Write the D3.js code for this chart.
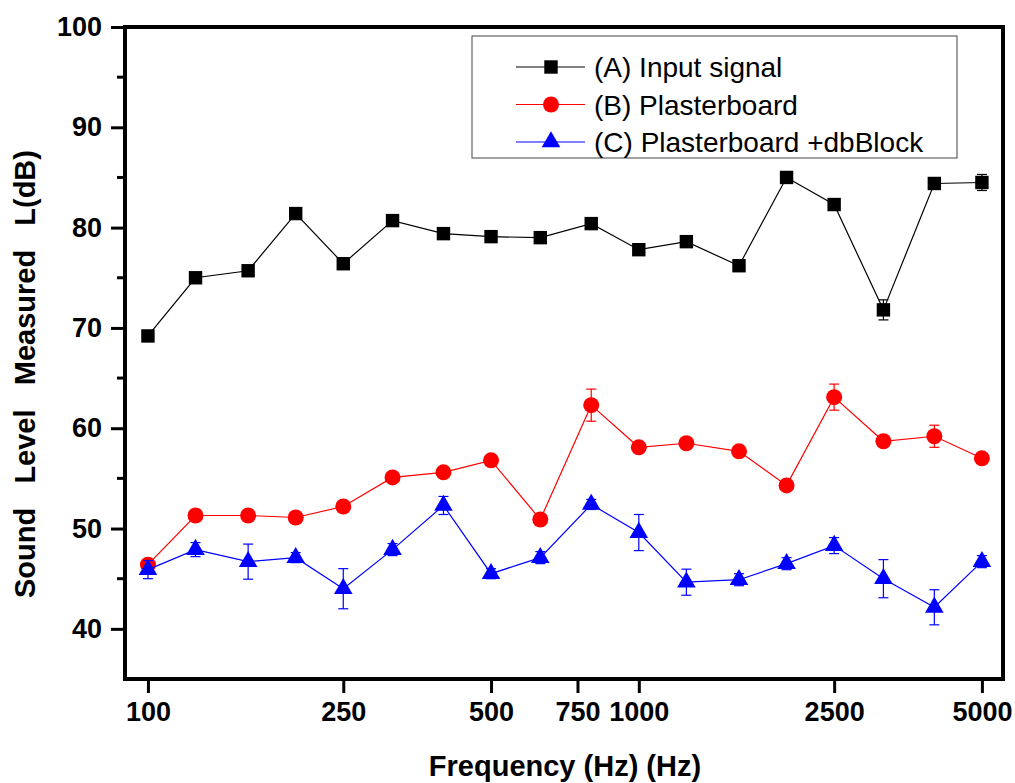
<!DOCTYPE html>
<html>
<head>
<meta charset="utf-8">
<script src="https://cdn.jsdelivr.net/npm/d3@7"></script>
<style>
    body { margin: 0; background: #fff; }
    svg { font-family: "Liberation Sans", Arial, sans-serif; }
</style>
</head>
<body>
<div id="chart"></div>
<script>
// Data
const freqs = [100, 125, 160, 200, 250, 315, 400, 500, 630, 800, 1000, 1250, 1600, 2000, 2500, 3150, 4000, 5000];
const inputSignal = [69.2, 75.0, 75.7, 81.4, 76.4, 80.7, 79.4, 79.1, 79.0, 80.4, 77.8, 78.6, 76.2, 85.0, 82.3, 71.8, 84.4, 84.5];
const inputErr    = [0.3, 0.3, 0.3, 0.3, 0.3, 0.3, 0.3, 0.3, 0.5, 0.3, 0.3, 0.3, 0.3, 0.3, 0.5, 1.0, 0.3, 0.8];
const plaster     = [46.4, 51.3, 51.3, 51.1, 52.2, 55.1, 55.6, 56.8, 50.9, 62.3, 58.1, 58.5, 57.7, 54.3, 63.1, 58.7, 59.2, 57.0];
const plasterErr  = [0.3, 0.2, 0.2, 0.2, 0.2, 0.2, 0.2, 0.2, 0.2, 1.6, 0.3, 0.2, 0.5, 0.2, 1.3, 0.5, 1.1, 0.2];
const dbBlock     = [45.9, 47.9, 46.7, 47.1, 44.0, 47.9, 52.3, 45.5, 47.1, 52.4, 49.6, 44.65, 44.9, 46.5, 48.3, 45.0, 42.15, 46.7];
const dbBlockErr  = [0.9, 0.7, 1.75, 0.5, 2.0, 0.6, 0.9, 0.5, 0.6, 0.5, 1.8, 1.3, 0.6, 0.6, 0.8, 1.9, 1.75, 0.6];

const xTicks = [100, 250, 500, 750, 1000, 2500, 5000];
const yTicks = [40, 50, 60, 70, 80, 90, 100];
const yMinorTicks = [45, 55, 65, 75, 85, 95];
const seriesNames = ["(A) Input signal", "(B) Plasterboard", "(C) Plasterboard +dbBlock"];

const svgWidth = 1015, svgHeight = 783;
const margin = { top: 27, right: 12, bottom: 104, left: 125 };
const width = svgWidth - margin.left - margin.right;
const height = svgHeight - margin.top - margin.bottom;

const series = [
    { name: seriesNames[0], values: inputSignal, err: inputErr, color: "#000000", shape: "square" },
    { name: seriesNames[1], values: plaster, err: plasterErr, color: "#ff0000", shape: "circle" },
    { name: seriesNames[2], values: dbBlock, err: dbBlockErr, color: "#0000ff", shape: "triangle" }
];

const x = d3.scaleLog().domain([89.8, 5520]).range([0, width]);
const y = d3.scaleLinear().domain([35, 100]).range([height, 0]);

const svg = d3.select("#chart").append("svg")
    .attr("width", svgWidth)
    .attr("height", svgHeight);

const g = svg.append("g")
    .attr("transform", `translate(${margin.left},${margin.top})`);

// axes
const xAxis = d3.axisBottom(x).tickValues(xTicks).tickFormat(d3.format("d")).tickSize(13).tickSizeOuter(0).tickPadding(9);
const yAxis = d3.axisLeft(y).tickValues(yTicks).tickSize(13).tickSizeOuter(0).tickPadding(9);

const gx = g.append("g").attr("transform", `translate(0,${height + 1})`).call(xAxis);
const gy = g.append("g").attr("transform", "translate(-1,0)").call(yAxis);

g.append("g").attr("transform", "translate(-1,0)")
    .selectAll("line").data(yMinorTicks).join("line")
    .attr("x1", -7).attr("x2", 0)
    .attr("y1", d => y(d)).attr("y2", d => y(d))
    .attr("stroke", "#000").attr("stroke-width", 3);

[gx, gy].forEach(a => {
    a.select(".domain").remove();
    a.selectAll(".tick line").attr("stroke-width", 3);
    a.selectAll(".tick text")
        .attr("fill", "#000")
        .style("font-size", "27px")
        .style("font-weight", "bold");
});

// frame
g.append("rect")
    .attr("x", 0).attr("y", 0)
    .attr("width", width).attr("height", height)
    .attr("fill", "none")
    .attr("stroke", "#000")
    .attr("stroke-width", 4);

// axis titles
svg.append("text")
    .attr("x", margin.left + 440)
    .attr("y", 776)
    .attr("text-anchor", "middle")
    .style("font-size", "29px")
    .style("font-weight", "bold")
    .text("Frequency (Hz) (Hz)");

svg.append("text")
    .attr("transform", "translate(35,374) rotate(-90)")
    .attr("text-anchor", "middle")
    .attr("xml:space", "preserve")
    .style("white-space", "pre")
    .style("font-size", "29px")
    .style("font-weight", "bold")
    .text("Sound   Level   Measured   L(dB)");

function marker(sel, shape, color) {
    if (shape === "circle") {
        sel.append("circle").attr("r", 8).attr("fill", color);
    } else {
        const type = shape === "square" ? d3.symbolSquare : d3.symbolTriangle;
        const size = shape === "square" ? 180 : 150;
        sel.append("path").attr("d", d3.symbol().type(type).size(size)()).attr("fill", color);
    }
}

const line = d3.line()
    .x((d, i) => x(freqs[i]))
    .y(d => y(d));

series.forEach(s => {
    const sg = g.append("g");
    sg.append("path")
        .datum(s.values)
        .attr("fill", "none")
        .attr("stroke", s.color)
        .attr("stroke-width", 1.2)
        .attr("d", line);

    // error bars
    const eb = sg.selectAll(".err").data(s.values).join("g")
        .attr("transform", (d, i) => `translate(${x(freqs[i])},0)`);
    eb.append("line")
        .attr("y1", (d, i) => y(d - s.err[i]))
        .attr("y2", (d, i) => y(d + s.err[i]))
        .attr("stroke", s.color).attr("stroke-width", 1.2);
    [-1, 1].forEach(sign => {
        eb.append("line")
            .attr("x1", -5).attr("x2", 5)
            .attr("y1", (d, i) => y(d + sign * s.err[i]))
            .attr("y2", (d, i) => y(d + sign * s.err[i]))
            .attr("stroke", s.color).attr("stroke-width", 1.2);
    });

    // markers
    sg.selectAll(".pt").data(s.values).join("g")
        .attr("transform", (d, i) => `translate(${x(freqs[i])},${y(d)})`)
        .each(function() { marker(d3.select(this), s.shape, s.color); });
});

// legend
const legend = svg.append("g").attr("transform", "translate(472,36)");
legend.append("rect")
    .attr("width", 485).attr("height", 122)
    .attr("fill", "#fff")
    .attr("stroke", "#444")
    .attr("stroke-width", 1);

series.forEach((s, i) => {
    const row = legend.append("g").attr("transform", `translate(0,${31 + i * 37.5})`);
    row.append("line")
        .attr("x1", 44).attr("x2", 113)
        .attr("stroke", s.color).attr("stroke-width", 1.2);
    const m = row.append("g").attr("transform", "translate(79,0)");
    marker(m, s.shape, s.color);
    row.append("text")
        .attr("x", 122)
        .attr("dy", "0.36em")
        .style("font-size", "28px")
        .text(s.name);
});
</script>
</body>
</html>
